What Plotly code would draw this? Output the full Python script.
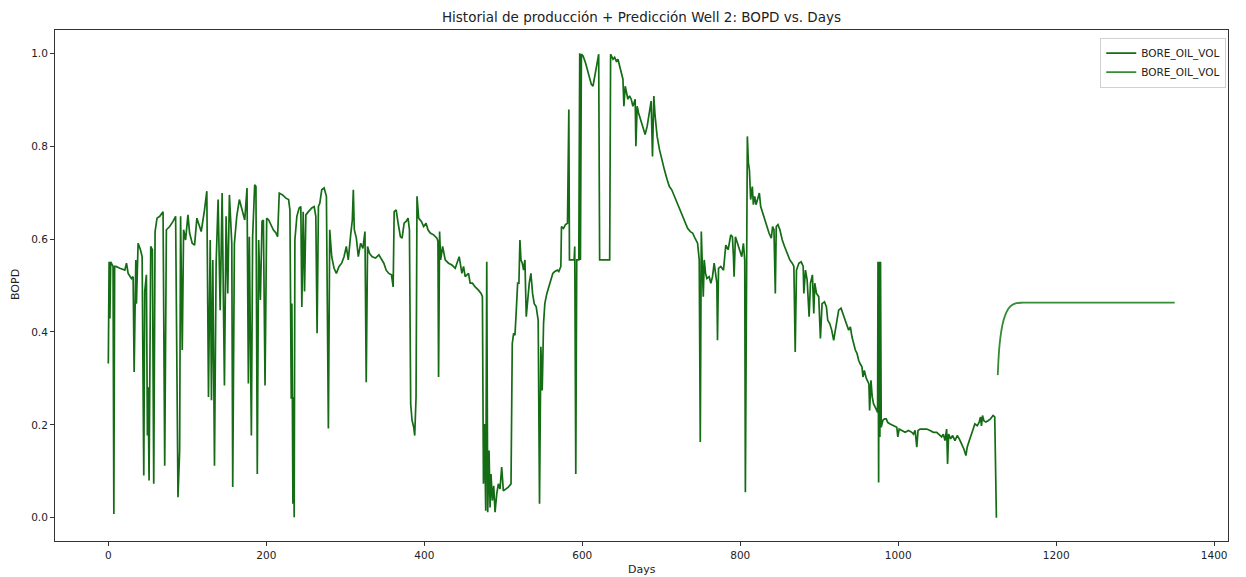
import plotly.graph_objects as go

# ---- Historical production (normalized BOPD) ----
days_hist = [
    0, 1, 2, 3, 6, 7, 8, 9.6, 14.6, 20.9, 23, 25.1, 29.3, 31.4, 32.7, 34.8, 35.6, 37.7, 40.7, 42.8,
    44.9, 46.1, 48.2, 49.5, 50.3, 51.6, 53.7, 55.8, 57.5, 59.2, 61.7, 65.1, 69.3, 71.4, 73.5, 77.7,
    81.9, 85.2, 88.2, 90.3, 91.5, 93.6, 95.3, 97.8, 100.8, 102.9, 106.2, 109.2, 112.1, 114.6, 117.6,
    121.8, 124.7, 126.8, 129, 130.6, 132.3, 134.4, 136.5, 139, 141.6, 144.1, 147, 149.1, 151.2, 153.3,
    156.3, 157.5, 159.6, 162.6, 165.9, 169.3, 172.7, 175.6, 177.3, 178.5, 181.1, 182.7, 185.3, 186.9,
    188.6, 190.3, 192.5, 194.6, 196.3, 198.4, 200.5, 203, 205.9, 208.9, 212.2, 214.3, 216.4, 220.6,
    224.8, 228.2, 229.9, 231.6, 232.4, 233.7, 234.5, 235.3, 236.2, 238.7, 241.6, 243.7, 245, 246.7,
    248.4, 250.1, 253.4, 257.6, 260.6, 262.7, 264.3, 266, 267.7, 270.2, 273.2, 276.1, 278.6, 280.3,
    282.8, 285.8, 288.7, 292.1, 295.4, 298.4, 301.3, 303.8, 306.8, 308.9, 310.2, 311.4, 314, 316.5,
    319.4, 322.3, 324.9, 326.5, 328.2, 330.7, 334.1, 338.3, 342.5, 345.9, 348.8, 351.8, 355.1, 358.5,
    360.6, 361.9, 364.4, 366.9, 369.8, 371.9, 374.5, 377, 379.5, 381.2, 382.8, 384.5, 386.6, 387.9,
    389.6, 390.8, 392.9, 396.3, 399.2, 402.2, 404.7, 407.6, 411.8, 416, 417.3, 418.1, 419.4, 420.7,
    423.2, 426.5, 430.7, 435, 439.2, 444.2, 447.6, 449.7, 451.8, 456, 458.1, 461, 464.4, 468.6, 471.9,
    473.6, 474.9, 476.1, 477.8, 479.1, 480.3, 482, 483.3, 484.5, 486.2, 487.9, 489.6, 491.7, 493.8,
    495.9, 498, 500.1, 503, 506.4, 509.8, 511.4, 513.1, 514.8, 516.5, 518.2, 519.8, 521.1, 522.4,
    524.1, 525.7, 527.4, 529.1, 530.8, 532.9, 535, 537.1, 539.2, 541.7, 544.2, 545.9, 547.6, 549.3,
    551, 552.6, 555.2, 557.7, 560.2, 562.7, 565.2, 568.6, 570.3, 572.9, 573.7, 576.2, 578.8, 581.3,
    583, 583.8, 586.3, 589.7, 590.5, 591.8, 593, 595.6, 596.8, 597.7, 598.9, 601, 604, 607.3, 611.5,
    613.6, 615.7, 619.1, 620.8, 622, 634.7, 635.9, 638.9, 641, 643.1, 645.2, 647.3, 649.4, 651.5,
    652.7, 654.4, 656.1, 657.8, 659.9, 662, 664.1, 667, 667.9, 669.5, 671.2, 673.7, 676.7, 679.6,
    682.2, 685.1, 687.2, 688.9, 690.6, 692.2, 694.8, 697.7, 700.6, 704, 707.4, 710.3, 713.3, 716.6,
    720.8, 724.2, 727.1, 730.1, 733.4, 736.8, 739.7, 742.7, 746, 748.1, 749.4, 750.7, 751.9, 753.2,
    754.4, 756.1, 757.8, 760.7, 762.8, 764.9, 767, 769.1, 770.4, 771.2, 772.5, 775.4, 778.8, 781.7,
    784.7, 788, 790.1, 791.4, 792.2, 793.9, 796.4, 799.8, 801.9, 804, 805.7, 806.5, 809, 810.3, 811.6,
    813.2, 815.3, 816.6, 818.3, 820, 822.5, 824.2, 825.9, 828, 830.1, 833.4, 836.4, 839.3, 841, 842.7,
    844.4, 845.6, 847.7, 850.2, 853.2, 856.1, 859.5, 862.8, 865.8, 867.9, 869.6, 871.2, 874.2, 877.1,
    879.7, 880.5, 882.6, 884.7, 887.2, 888.9, 891.4, 893.1, 894.4, 896.5, 899.4, 901.5, 903.6, 906.6,
    909.1, 910.8, 913.3, 915.8, 918.3, 921.7, 924.6, 927.6, 930.9, 934.3, 937.3, 939.4, 941.5, 943.6,
    945.7, 947.8, 949.9, 952, 954.1, 955.4, 957.1, 959.6, 961.3, 962.9, 963.8, 965.5, 967.1, 968.8,
    970.9, 972.2, 973.9, 974.4, 975.2, 976, 976.8, 977.6, 978.5, 980.6, 982.7, 984.8, 986.9, 989.8,
    994, 998.2, 999.5, 1001.2, 1004.6, 1008.8, 1013, 1017.2, 1019.3, 1021.4, 1023.5, 1025.1, 1027.7,
    1031.9, 1036.1, 1040.3, 1044.5, 1048.7, 1052.9, 1055, 1057.1, 1059.2, 1061.3, 1062.5, 1063.8,
    1066.3, 1068.9, 1071.8, 1074.7, 1077.3, 1080.2, 1083.1, 1085.7, 1087.3, 1089.9, 1092.8, 1094.9,
    1097, 1100, 1102.5, 1104.2, 1105.4, 1106.7, 1108.4, 1110.9, 1113.8, 1116.8, 1120.1, 1122.2, 1124.3,
]
bopd_hist = [
    0.332, 0.551, 0.429, 0.551, 0.541, 0.008, 0.541, 0.541, 0.537, 0.533, 0.548, 0.526, 0.515, 0.519, 0.314, 0.555, 0.461, 0.591, 0.577, 0.562,
    0.091, 0.487, 0.523, 0.177, 0.281, 0.080, 0.584, 0.577, 0.073, 0.616, 0.645, 0.649, 0.659, 0.112, 0.620, 0.627,
    0.638, 0.649, 0.044, 0.145, 0.649, 0.361, 0.620, 0.598, 0.652, 0.613, 0.591, 0.587, 0.645, 0.631, 0.616,
    0.663, 0.703, 0.260, 0.598, 0.253, 0.555, 0.112, 0.548, 0.685, 0.447, 0.699, 0.285, 0.649, 0.483, 0.695,
    0.591, 0.066, 0.591, 0.649, 0.685, 0.663, 0.641, 0.710, 0.289, 0.605, 0.177, 0.605, 0.717, 0.713,
    0.094, 0.598, 0.469, 0.638, 0.641, 0.285, 0.645, 0.641, 0.631, 0.620, 0.613, 0.605, 0.699, 0.695,
    0.688, 0.685, 0.663, 0.256, 0.461, 0.030, 0.260, 0.001, 0.598, 0.649, 0.667, 0.670, 0.454, 0.659,
    0.487, 0.652, 0.659, 0.667, 0.670, 0.649, 0.397, 0.670, 0.677, 0.706, 0.710, 0.692, 0.192, 0.620,
    0.562, 0.537, 0.526, 0.541, 0.548, 0.562, 0.584, 0.555, 0.609, 0.641, 0.706, 0.620, 0.602, 0.562,
    0.591, 0.580, 0.616, 0.292, 0.584, 0.569, 0.562, 0.559, 0.566, 0.555, 0.548, 0.533, 0.526, 0.523,
    0.497, 0.659, 0.663, 0.634, 0.605, 0.602, 0.634, 0.638, 0.645, 0.620, 0.245, 0.210, 0.195, 0.177,
    0.260, 0.692, 0.645, 0.638, 0.627, 0.634, 0.620, 0.613, 0.609, 0.602, 0.595, 0.303, 0.616, 0.555,
    0.584, 0.555, 0.548, 0.544, 0.537, 0.562, 0.526, 0.541, 0.519, 0.526, 0.505, 0.505, 0.497, 0.490, 0.483,
    0.476, 0.073, 0.202, 0.015, 0.551, 0.012, 0.145, 0.022, 0.094, 0.037, 0.069, 0.012, 0.051, 0.073,
    0.062, 0.109, 0.058, 0.062, 0.066, 0.073, 0.375, 0.397, 0.393, 0.447, 0.505, 0.505, 0.598, 0.555,
    0.548, 0.533, 0.555, 0.433, 0.476, 0.505, 0.526, 0.483, 0.461, 0.454, 0.425, 0.030, 0.368, 0.274,
    0.418, 0.461, 0.483, 0.497, 0.512, 0.526, 0.530, 0.533, 0.530, 0.541, 0.627, 0.623, 0.631, 0.634,
    0.879, 0.555, 0.555, 0.555, 0.584, 0.094, 0.555, 0.555, 1.000, 0.555, 0.998, 0.994, 0.980, 0.958, 0.933,
    0.929, 0.951, 0.983, 0.998, 0.555, 0.555, 0.998, 0.987, 0.991, 0.983, 0.987, 0.973, 0.958, 0.944,
    0.886, 0.929, 0.915, 0.901, 0.908, 0.901, 0.886, 0.901, 0.800, 0.886, 0.872, 0.857, 0.839, 0.825,
    0.843, 0.872, 0.897, 0.778, 0.908, 0.865, 0.821, 0.793, 0.771, 0.749, 0.728, 0.713, 0.706, 0.692,
    0.677, 0.659, 0.649, 0.634, 0.623, 0.616, 0.613, 0.602, 0.591, 0.555, 0.163, 0.616, 0.548, 0.476,
    0.555, 0.526, 0.515, 0.519, 0.505, 0.519, 0.548, 0.526, 0.505, 0.382, 0.537, 0.541, 0.533, 0.587,
    0.577, 0.609, 0.605, 0.562, 0.519, 0.605, 0.591, 0.577, 0.562, 0.591, 0.555, 0.055, 0.821, 0.764, 0.749,
    0.685, 0.713, 0.674, 0.692, 0.674, 0.688, 0.699, 0.670, 0.659, 0.645, 0.627, 0.613, 0.602, 0.627, 0.620,
    0.483, 0.627, 0.631, 0.620, 0.598, 0.584, 0.569, 0.555, 0.548, 0.541, 0.357, 0.533, 0.548, 0.551,
    0.541, 0.483, 0.533, 0.512, 0.433, 0.505, 0.523, 0.440, 0.505, 0.483, 0.476, 0.386, 0.461, 0.465,
    0.454, 0.425, 0.418, 0.404, 0.382, 0.418, 0.447, 0.451, 0.433, 0.418, 0.404, 0.411, 0.389, 0.375,
    0.361, 0.354, 0.339, 0.331, 0.325, 0.303, 0.317, 0.300, 0.295, 0.288, 0.231, 0.296, 0.260, 0.245,
    0.238, 0.231, 0.227, 0.551, 0.076, 0.551, 0.174, 0.551, 0.195, 0.210, 0.213, 0.213, 0.205, 0.202,
    0.199, 0.195, 0.174, 0.191, 0.188, 0.184, 0.188, 0.184, 0.180, 0.188, 0.152, 0.188, 0.191,
    0.191, 0.191, 0.188, 0.184, 0.184, 0.177, 0.174, 0.180, 0.166, 0.191, 0.116, 0.180,
    0.170, 0.177, 0.166, 0.177, 0.170, 0.159, 0.148, 0.134, 0.152, 0.166, 0.184, 0.191,
    0.202, 0.198, 0.206, 0.217, 0.198, 0.220, 0.209, 0.206, 0.209, 0.213, 0.220, 0.217, 0.000,
]

# ---- Prediction ----
days_pred = [1126, 1127.7, 1129.4, 1131.9, 1134.8, 1139, 1143.2, 1149.5, 1157.9, 1175, 1200, 1250, 1300, 1350]
bopd_pred = [0.307, 0.361, 0.389, 0.415, 0.433, 0.449, 0.457, 0.462, 0.463, 0.463, 0.463, 0.463, 0.463, 0.463]

x_ticks = [0, 200, 400, 600, 800, 1000, 1200, 1400]
y_ticks = [0.0, 0.2, 0.4, 0.6, 0.8, 1.0]

FONT = "DejaVu Sans"

fig = go.Figure()
fig.add_trace(go.Scatter(x=days_hist, y=bopd_hist, mode="lines", name="BORE_OIL_VOL",
                         line=dict(color="rgb(20,108,20)", width=1.7)))
fig.add_trace(go.Scatter(x=days_pred, y=bopd_pred, mode="lines", name="BORE_OIL_VOL",
                         line=dict(color="rgb(52,140,52)", width=1.8, shape="spline")))

axis_common = dict(showline=True, mirror=True, linecolor="#333", linewidth=1,
                   ticks="outside", ticklen=4, tickcolor="#333", tickwidth=1,
                   showgrid=False, zeroline=False,
                   tickfont=dict(family=FONT, size=10.5, color="#222"))

plot_h = 577 - 30 - 36
plot_w = 1246 - 55 - 18

fig.update_layout(
    width=1246, height=577,
    margin=dict(l=55, r=18, t=30, b=36),
    paper_bgcolor="white", plot_bgcolor="white",
    title=dict(text="Historial de producción + Predicción Well 2: BOPD vs. Days",
               x=0.5, xref="paper", xanchor="center",
               y=1 - 17 / 577, yref="container", yanchor="middle",
               font=dict(family=FONT, size=13.5, color="#222")),
    xaxis=dict(range=[-67.5, 1417.5], tickvals=x_ticks, **axis_common),
    yaxis=dict(range=[-0.05, 1.05], tickvals=y_ticks, tickformat=".1f", **axis_common),
    legend=dict(x=0.9985, xanchor="right", y=0.985, yanchor="top",
                bgcolor="rgba(255,255,255,0.9)", bordercolor="#d0d0d0", borderwidth=1,
                font=dict(family=FONT, size=10.5, color="#222"),
                tracegroupgap=0, itemwidth=30),
    showlegend=True,
    annotations=[
        dict(text="Days", x=0.5, xref="paper", y=-(569 - 541) / plot_h, yref="paper",
             yanchor="middle", showarrow=False,
             font=dict(family=FONT, size=11, color="#222")),
        dict(text="BOPD", textangle=-90, x=-(55 - 15) / plot_w, xref="paper",
             y=(541 - 285) / plot_h, yref="paper", xanchor="center", yanchor="middle",
             showarrow=False, font=dict(family=FONT, size=11, color="#222")),
    ],
)

fig.write_html("out.html")
